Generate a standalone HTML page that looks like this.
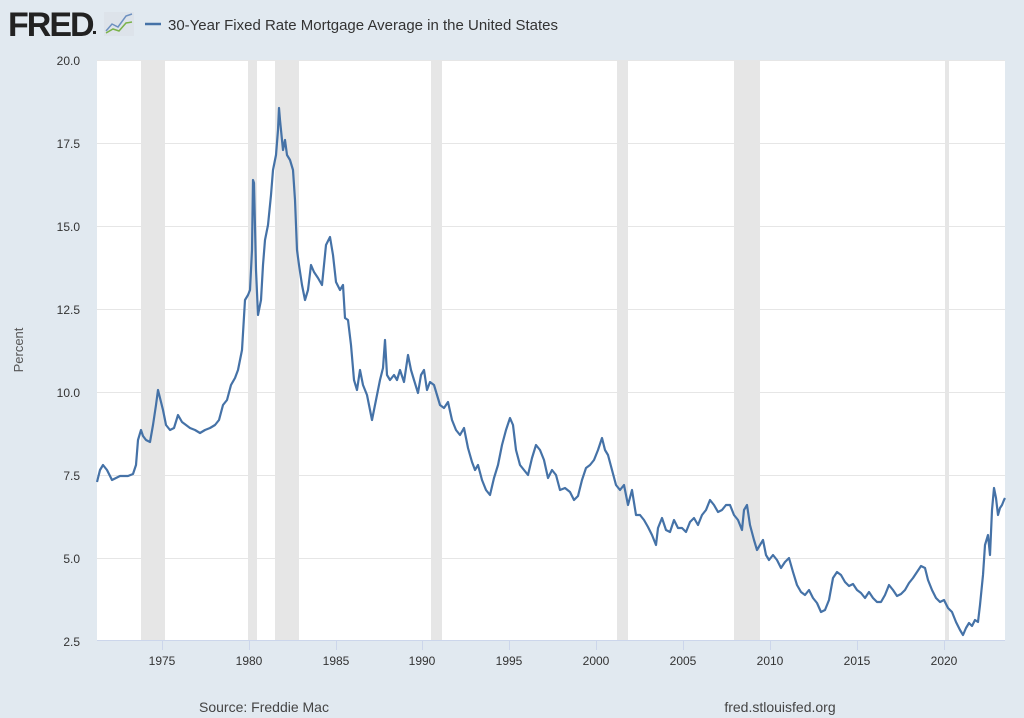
<!DOCTYPE html>
<html><head><meta charset="utf-8"><style>
body{margin:0;background:#e1e9f0;}
svg{display:block;font-family:"Liberation Sans",sans-serif;}
</style></head><body>
<svg width="1024" height="718" viewBox="0 0 1024 718">
<rect width="1024" height="718" fill="#e1e9f0"/>
<text x="8" y="36" font-size="34" font-weight="bold" fill="#222" letter-spacing="-2">FRED</text>
<rect x="93" y="31" width="3" height="3" fill="#222"/>
<rect x="104" y="12" width="30" height="24" fill="#dde3ea"/>
<polyline points="106,31 112,24 118,27 126,16 132,14" fill="none" stroke="#6d90c0" stroke-width="1.5"/>
<polyline points="106,33 113,29 119,31 126,23 132,22" fill="none" stroke="#7ab24a" stroke-width="1.5"/>
<line x1="145" y1="24" x2="161" y2="24" stroke="#4572a7" stroke-width="2.5"/>
<text x="168" y="30" font-size="14.5" fill="#333" textLength="390" lengthAdjust="spacingAndGlyphs">30-Year Fixed Rate Mortgage Average in the United States</text>
<rect x="97" y="60" width="908" height="580" fill="#fff"/>
<g fill="#e6e6e6">
<rect x="141" y="60" width="24" height="580"/>
<rect x="248" y="60" width="9" height="580"/>
<rect x="275" y="60" width="24" height="580"/>
<rect x="431" y="60" width="11" height="580"/>
<rect x="617" y="60" width="11" height="580"/>
<rect x="734" y="60" width="26" height="580"/>
<rect x="945" y="60" width="4" height="580"/>
</g>
<g stroke="#e6e6e6" stroke-width="1">
<line x1="97" y1="60.5" x2="1005" y2="60.5"/><line x1="97" y1="143.5" x2="1005" y2="143.5"/>
<line x1="97" y1="226.5" x2="1005" y2="226.5"/><line x1="97" y1="309.5" x2="1005" y2="309.5"/>
<line x1="97" y1="392.5" x2="1005" y2="392.5"/><line x1="97" y1="475.5" x2="1005" y2="475.5"/>
<line x1="97" y1="558.5" x2="1005" y2="558.5"/>
</g>
<line x1="97" y1="640.5" x2="1005" y2="640.5" stroke="#ccd6eb"/>
<g stroke="#ccd6eb"><line x1="162.5" y1="640" x2="162.5" y2="650"/><line x1="249.5" y1="640" x2="249.5" y2="650"/><line x1="336.5" y1="640" x2="336.5" y2="650"/><line x1="422.5" y1="640" x2="422.5" y2="650"/><line x1="509.5" y1="640" x2="509.5" y2="650"/><line x1="596.5" y1="640" x2="596.5" y2="650"/><line x1="683.5" y1="640" x2="683.5" y2="650"/><line x1="770.5" y1="640" x2="770.5" y2="650"/><line x1="857.5" y1="640" x2="857.5" y2="650"/><line x1="944.5" y1="640" x2="944.5" y2="650"/></g>
<g font-size="12" fill="#333" text-anchor="end">
<text x="80" y="65">20.0</text><text x="80" y="148">17.5</text><text x="80" y="231">15.0</text><text x="80" y="314">12.5</text><text x="80" y="397">10.0</text><text x="80" y="480">7.5</text><text x="80" y="563">5.0</text><text x="80" y="646">2.5</text>
</g>
<g font-size="12" fill="#333" text-anchor="middle">
<text x="162" y="665">1975</text><text x="249" y="665">1980</text><text x="336" y="665">1985</text><text x="422" y="665">1990</text><text x="509" y="665">1995</text><text x="596" y="665">2000</text><text x="683" y="665">2005</text><text x="770" y="665">2010</text><text x="857" y="665">2015</text><text x="944" y="665">2020</text>
</g>
<text transform="translate(23,350) rotate(-90)" font-size="13" fill="#555" text-anchor="middle">Percent</text>
<text x="264" y="712" font-size="14" fill="#444" text-anchor="middle">Source: Freddie Mac</text>
<text x="780" y="712" font-size="14" fill="#444" text-anchor="middle">fred.stlouisfed.org</text>
<polyline fill="none" stroke="#4572a7" stroke-width="2.2" stroke-linejoin="round" points="97,482 100,470 103,465 107,470 112,480 116,478 120,476 128,476 133,474 136,465 138,440 141,430 143,436 146,440 150,442 153,425 156,405 158,390 160,398 163,410 166,425 170,430 174,428 178,415 182,422 186,425 190,428 195,430 200,433 205,430 210,428 215,425 219,420 223,405 227,400 231,385 235,378 238,370 242,350 245,300 248,295 250,290 252,250 253,180 254,183 256,270 258,315 261,300 263,265 265,240 268,225 271,195 273,170 276,155 278,130 279,108 280,120 283,150 285,140 287,155 290,160 293,170 295,200 297,250 299,265 302,285 305,300 308,290 311,265 314,272 318,278 322,285 326,245 330,237 333,255 336,282 340,290 343,285 345,318 348,320 351,345 354,380 357,390 360,370 363,385 367,395 372,420 376,400 380,380 383,368 385,340 387,375 390,380 394,375 397,380 400,370 404,382 408,355 411,370 414,380 418,393 421,375 424,370 427,390 430,382 434,385 437,395 440,405 444,408 448,402 452,420 456,430 460,435 464,428 468,448 472,462 475,470 478,465 482,480 486,490 490,495 494,478 498,465 502,445 506,430 510,418 513,425 516,450 520,465 524,470 528,475 532,458 536,445 540,450 544,460 548,478 552,470 556,475 560,490 565,488 570,492 574,500 578,496 582,480 586,468 590,465 594,460 598,450 602,438 605,450 608,455 612,470 616,485 620,490 624,485 628,505 632,490 636,515 640,515 644,520 648,527 652,535 656,545 658,528 662,518 666,530 670,532 674,520 678,528 682,528 686,532 690,522 694,518 698,525 702,515 706,510 710,500 714,505 718,512 722,510 726,505 730,505 734,515 738,520 742,530 744,510 747,505 750,525 754,540 757,550 760,545 763,540 766,555 769,560 773,555 777,560 781,568 785,562 789,558 793,572 797,585 801,592 805,595 809,590 813,598 817,603 821,612 825,610 829,600 833,578 837,572 841,575 845,582 849,586 853,584 857,590 861,593 865,598 869,592 873,598 877,602 881,602 885,595 889,585 893,590 897,596 901,594 905,590 909,583 913,578 917,572 921,566 925,568 928,580 932,590 936,598 940,602 944,600 948,608 952,612 956,622 960,630 963,635 966,628 969,623 972,626 975,620 978,622 980,605 983,575 985,545 988,535 990,555 992,510 994,488 996,498 998,515 1000,508 1002,505 1004,500 1005,498"/>
</svg>
</body></html>
